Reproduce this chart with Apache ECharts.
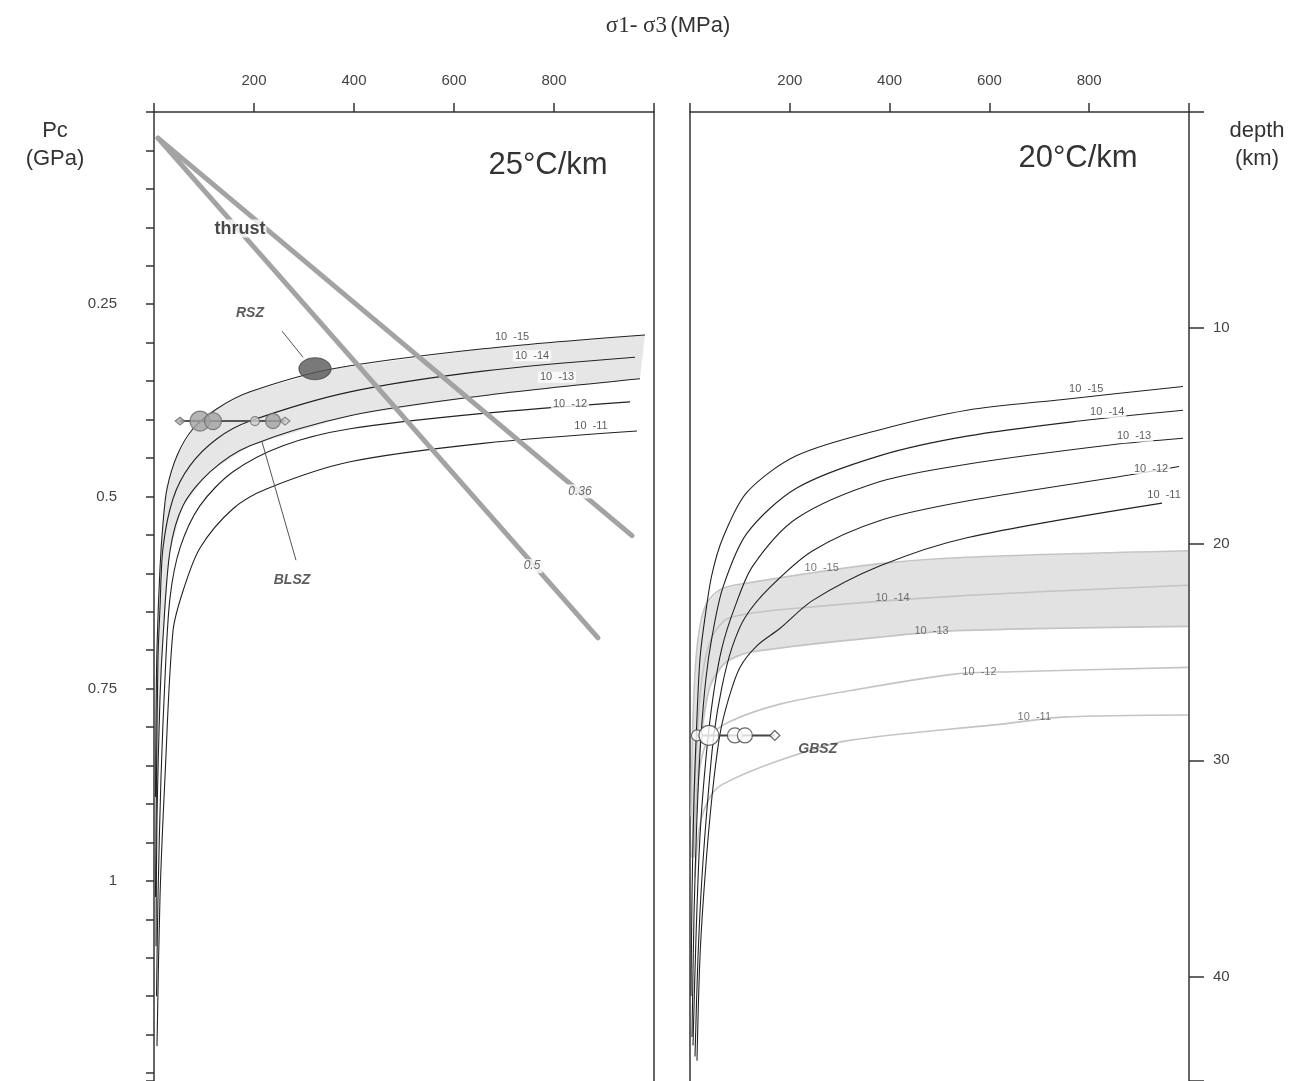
<!DOCTYPE html>
<html><head><meta charset="utf-8">
<script src="https://cdn.jsdelivr.net/npm/echarts@6/dist/echarts.min.js"></script>
<style>html,body{margin:0;padding:0;background:#fff}#c{width:1300px;height:1081px}</style>
</head><body><div id="c"></div>
<script>
// ---------- tick labels ----------
const xTickLabels = [200, 400, 600, 800];
const pcTickLabels = [0.25, 0.5, 0.75, 1];
const depthTickLabels = [10, 20, 30, 40];
const rateLabels = ['10  -15', '10  -14', '10  -13', '10  -12', '10  -11'];

// ---------- 25°C/km panel : [σ1-σ3 (MPa), Pc (GPa)] ----------
const left15 = [[3,0.891],[4,0.788],[6,0.697],[12,0.593],[18,0.535],[26,0.490],[46,0.447],[78,0.412],[126,0.386],[192,0.364],[358,0.334],[658,0.308],[982,0.290]];
const left14 = [[3,1.021],[5,0.865],[8,0.710],[12,0.645],[18,0.567],[38,0.503],[72,0.460],[126,0.425],[192,0.402],[392,0.364],[658,0.337],[962,0.319]];
const left13 = [[4,1.085],[6,0.917],[12,0.762],[18,0.684],[32,0.571],[58,0.512],[112,0.468],[192,0.434],[392,0.395],[658,0.369],[972,0.347]];
const left12 = [[5,1.150],[8,1.021],[14,0.865],[22,0.736],[32,0.632],[52,0.567],[92,0.512],[158,0.468],[258,0.434],[392,0.412],[658,0.392],[952,0.377]];
const left11 = [[6,1.215],[12,1.021],[22,0.865],[38,0.675],[58,0.623],[92,0.567],[158,0.516],[226,0.490],[392,0.455],[658,0.431],[966,0.415]];
const leftRateLabelPos = [[716,0.293],[756,0.317],[806,0.345],[832,0.380],[874,0.408]];

// thrust (friction) lines
const thrust036 = [[8,0.034],[956,0.551]];
const thrust05 = [[8,0.034],[888,0.684]];
const thrustLabels = [['0.36',852,0.4935],['0.5',756,0.5907]];
const thrustTextPos = [172,0.1516];

// shear zones (25°C/km)
const rszPoint = [322,0.334];
const blszRange = [[52,0.402],[262,0.402]];
const blszPoints = [[92,0.402,20],[118,0.402,17],[202,0.402,9],[238,0.402,15]];
const rszLeader = [[256,0.285],[298,0.319]];
const blszLeader = [[216,0.429],[284,0.583]];
const rszTextPos = [192,0.262];
const blszTextPos = [276,0.609];

// ---------- 20°C/km panel : [σ1-σ3 (MPa), depth (km)] ----------
const right15 = [[2,40.9],[4,36.3],[8,31.7],[14,28.0],[20,25.3],[30,23.4],[44,21.4],[66,19.7],[114,17.6],[214,15.9],[381,14.7],[555,13.8],[748,13.3],[988,12.7]];
const right14 = [[4,42.8],[8,37.2],[14,32.6],[22,28.9],[32,26.2],[44,24.3],[66,22.0],[114,19.5],[214,17.4],[381,15.9],[555,15.0],[780,14.3],[988,13.8]];
const right13 = [[6,43.2],[12,38.2],[20,33.5],[32,29.9],[46,27.1],[64,24.8],[90,22.9],[126,21.0],[214,18.8],[381,17.1],[555,16.3],[846,15.4],[988,15.1]];
const right12 = [[10,43.7],[16,39.1],[24,35.4],[36,31.7],[48,28.8],[64,26.6],[84,24.8],[110,23.4],[160,22.0],[246,20.3],[381,18.9],[555,18.0],[880,16.8],[980,16.4]];
const right11 = [[14,43.9],[20,39.1],[30,35.4],[44,31.7],[60,28.8],[78,27.1],[100,25.7],[134,24.7],[180,23.9],[246,22.6],[381,21.0],[555,19.7],[946,18.1]];
const rightRateLabelPos = [[794,12.8],[836,13.9],[890,15.0],[924,16.5],[950,17.7]];

// grey curves (20°C/km panel)
const grey15 = [[2,32.6],[6,28.0],[14,24.8],[30,22.9],[60,22.1],[114,21.8],[380,20.9],[554,20.6],[998,20.3]];
const grey14 = [[4,34.5],[12,29.9],[24,26.2],[44,24.3],[80,23.4],[246,22.9],[534,22.4],[998,21.9]];
const grey13 = [[8,34.5],[20,29.4],[40,26.6],[70,25.5],[120,25.0],[380,24.3],[534,24.0],[998,23.8]];
const grey12 = [[8,34.0],[20,30.3],[40,28.9],[80,28.2],[180,27.4],[314,26.8],[534,26.0],[646,25.9],[998,25.7]];
const grey11 = [[10,35.4],[20,33.0],[40,31.7],[66,31.1],[180,30.0],[314,29.1],[634,28.3],[746,28.0],[998,27.9]];
const greyRateLabelPos = [[264,21.1],[406,22.5],[484,24.0],[580,25.9],[690,28.0]];

// GBSZ
const gbszRange = [[14,28.85],[170,28.85]];
const gbszPoints = [[14,28.85,11],[38,28.85,20],[90,28.85,15],[110,28.85,15]];
const gbszTextPos = [256,29.5];

// ---------- chart ----------
const FONT = 'Liberation Sans, Arial, sans-serif';
const chart = echarts.init(document.getElementById('c'), null, {renderer:'canvas'});

const G = {top:112, height:973};
function near(v, arr){ for (const a of arr){ if (Math.abs(v-a) < 1e-6) return String(a); } return ''; }

function curve(data, xi, yi, color, width, z){
  return {type:'line', xAxisIndex:xi, yAxisIndex:yi, data:data, showSymbol:false, symbol:'none',
    smooth:0.3, lineStyle:{color:color, width:width}, silent:true, z:z||3, animation:false};
}
function band(upper, lower, xi, yi, color){
  return {type:'custom', xAxisIndex:xi, yAxisIndex:yi, data:[0], silent:true, z:1, animation:false,
    renderItem:function(params, api){
      const pts = upper.map(p=>api.coord(p)).concat(lower.slice().reverse().map(p=>api.coord(p)));
      return {type:'polygon', shape:{points:pts}, style:{fill:color}};
    }};
}
function texts(items, xi, yi, style, z){
  return {type:'scatter', xAxisIndex:xi, yAxisIndex:yi, symbolSize:1, itemStyle:{color:'rgba(0,0,0,0)'},
    silent:true, z:z||8, animation:false,
    data: items.map(it=>({value:[it[1],it[2]], label:Object.assign({show:true, position:'inside', formatter:it[0]}, style)}))};
}

const rateStyle = {fontSize:11, fontFamily:FONT, color:'#333', backgroundColor:'#fff', padding:[0,2]};

const series = [];
// bands
series.push(band(left15, left13, 0, 0, '#e6e6e6'));
series.push(band(grey15, grey13, 1, 3, '#e2e2e2'));
// left curves
[left15,left14,left13,left12,left11].forEach(d=>series.push(curve(d,0,0,'#222',1.1,3)));
// right grey curves
[grey15,grey14,grey13,grey12,grey11].forEach(d=>series.push(curve(d,1,3,'#c4c4c4',1.6,2)));
// right black curves
[right15,right14,right13,right12,right11].forEach(d=>series.push(curve(d,1,3,'#222',1.1,3)));
// thrust lines
[thrust036, thrust05].forEach(d=>series.push({type:'line', xAxisIndex:0, yAxisIndex:0, data:d, symbol:'none',
  lineStyle:{color:'#a3a3a3', width:5, cap:'round'}, silent:true, z:4, animation:false}));
// leader lines
[rszLeader, blszLeader].forEach(d=>series.push({type:'line', xAxisIndex:0, yAxisIndex:0, data:d, symbol:'none',
  lineStyle:{color:'#555', width:1}, silent:true, z:5, animation:false}));
// BLSZ range bar
series.push({type:'line', xAxisIndex:0, yAxisIndex:0, data:blszRange, symbol:'none',
  lineStyle:{color:'#555', width:2}, silent:true, z:6, animation:false});
series.push({type:'scatter', xAxisIndex:0, yAxisIndex:0, silent:true, z:7, animation:false,
  data:[{value:blszRange[0], symbol:'diamond', symbolSize:[10,8], itemStyle:{color:'#aaa', borderColor:'#666', borderWidth:1}},
        {value:blszRange[1], symbol:'diamond', symbolSize:[10,8], itemStyle:{color:'#ccc', borderColor:'#666', borderWidth:1}}]
    .concat(blszPoints.map(p=>({value:[p[0],p[1]], symbol:'circle', symbolSize:p[2],
      itemStyle:{color:p[2]>12?'#a2a2a2':'#d0d0d0', borderColor:'#6a6a6a', borderWidth:1.2}})))});
// RSZ blob
series.push({type:'scatter', xAxisIndex:0, yAxisIndex:0, silent:true, z:7, animation:false,
  data:[{value:rszPoint, symbol:'circle', symbolSize:[32,22], itemStyle:{color:'#585858', borderColor:'#444', borderWidth:1}}]});
// GBSZ
series.push({type:'line', xAxisIndex:1, yAxisIndex:3, data:gbszRange, symbol:'none',
  lineStyle:{color:'#444', width:2}, silent:true, z:6, animation:false});
series.push({type:'scatter', xAxisIndex:1, yAxisIndex:3, silent:true, z:7, animation:false,
  data:[{value:gbszRange[1], symbol:'diamond', symbolSize:[10,10], itemStyle:{color:'#fff', borderColor:'#444', borderWidth:1.2}}]
    .concat(gbszPoints.map(p=>({value:[p[0],p[1]], symbol:'circle', symbolSize:p[2],
      itemStyle:{color:'#fff', borderColor:'#444', borderWidth:1.2}})))});
// labels
series.push(texts(rateLabels.map((t,i)=>[t,leftRateLabelPos[i][0],leftRateLabelPos[i][1]]),0,0,rateStyle));
series.push(texts(rateLabels.map((t,i)=>[t,rightRateLabelPos[i][0],rightRateLabelPos[i][1]]),1,3,rateStyle));
series.push(texts(rateLabels.map((t,i)=>[t,greyRateLabelPos[i][0],greyRateLabelPos[i][1]]),1,3,
  {fontSize:11, fontFamily:FONT, color:'#555'}));
series.push(texts(thrustLabels,0,0,{fontSize:12, fontFamily:FONT, fontStyle:'italic', color:'#444', backgroundColor:'#fff', padding:[1,2]}));
series.push(texts([['thrust',thrustTextPos[0],thrustTextPos[1]]],0,0,{fontSize:18, fontWeight:'bold', fontFamily:FONT, color:'#1a1a1a', backgroundColor:'#fff', padding:[0,1]}));
series.push(texts([['RSZ',rszTextPos[0],rszTextPos[1]],['BLSZ',blszTextPos[0],blszTextPos[1]]],0,0,
  {fontSize:14, fontWeight:'bold', fontStyle:'italic', fontFamily:FONT, color:'#333'}));
series.push(texts([['GBSZ',gbszTextPos[0],gbszTextPos[1]]],1,3,
  {fontSize:14, fontWeight:'bold', fontStyle:'italic', fontFamily:FONT, color:'#333'}));

const axisLineStyle = {color:'#333', width:1.5};
const xAxisCommon = {type:'value', position:'top', min:0, max:1000, interval:200,
  axisLine:{show:true, lineStyle:axisLineStyle}, axisTick:{show:true, length:9, lineStyle:axisLineStyle},
  splitLine:{show:false},
  axisLabel:{margin:24, fontSize:15, fontFamily:FONT, color:'#444', formatter:v=>near(v,xTickLabels)}};

const option = {
  backgroundColor:'#fff',
  animation:false,
  grid:[
    {left:154, top:G.top, width:500, height:G.height, show:false},
    {left:690, top:G.top, width:499, height:G.height, show:false}
  ],
  xAxis:[Object.assign({gridIndex:0}, xAxisCommon), Object.assign({gridIndex:1}, xAxisCommon)],
  yAxis:[
    {gridIndex:0, type:'value', position:'left', inverse:true, min:0, max:G.height/772, interval:0.05,
      axisLine:{show:true, onZero:false, lineStyle:axisLineStyle}, axisTick:{show:true, length:8, lineStyle:axisLineStyle},
      splitLine:{show:false},
      axisLabel:{margin:37, fontSize:15, fontFamily:FONT, color:'#444', formatter:v=>near(v,pcTickLabels)}},
    {gridIndex:0, type:'value', position:'right', inverse:true, min:0, max:G.height/772,
      axisLine:{show:true, onZero:false, lineStyle:axisLineStyle}, axisTick:{show:false}, axisLabel:{show:false}, splitLine:{show:false}},
    {gridIndex:1, type:'value', position:'left', inverse:true, min:0, max:G.height/21.7,
      axisLine:{show:true, onZero:false, lineStyle:axisLineStyle}, axisTick:{show:false}, axisLabel:{show:false}, splitLine:{show:false}},
    {gridIndex:1, type:'value', position:'right', inverse:true, min:0, max:G.height/21.7, interval:10,
      axisLine:{show:true, onZero:false, lineStyle:axisLineStyle}, axisTick:{show:true, length:15, lineStyle:axisLineStyle},
      splitLine:{show:false},
      axisLabel:{margin:24, fontSize:15, fontFamily:FONT, color:'#444', formatter:v=>near(v,depthTickLabels)}}
  ],
  graphic:[
    {type:'text', x:668, y:26, style:{text:'{s|σ1- σ3} {n|(MPa)}', align:'center', verticalAlign:'middle', rich:{
      s:{fontFamily:'Liberation Serif, Times New Roman, serif', fontSize:23, fill:'#333'},
      n:{fontFamily:FONT, fontSize:22, fill:'#333'}}}},
    {type:'text', x:55, y:117, style:{text:'Pc\n(GPa)', fontFamily:FONT, fontSize:22, fill:'#333', align:'center', lineHeight:28}},
    {type:'text', x:1257, y:117, style:{text:'depth\n(km)', fontFamily:FONT, fontSize:22, fill:'#333', align:'center', lineHeight:28}},
    {type:'text', x:548, y:165, style:{text:'25°C/km', fontFamily:FONT, fontSize:31, fill:'#333', align:'center', verticalAlign:'middle'}},
    {type:'text', x:1078, y:158, style:{text:'20°C/km', fontFamily:FONT, fontSize:31, fill:'#333', align:'center', verticalAlign:'middle'}}
  ],
  series:series
};
chart.setOption(option);
</script>
</body></html>
